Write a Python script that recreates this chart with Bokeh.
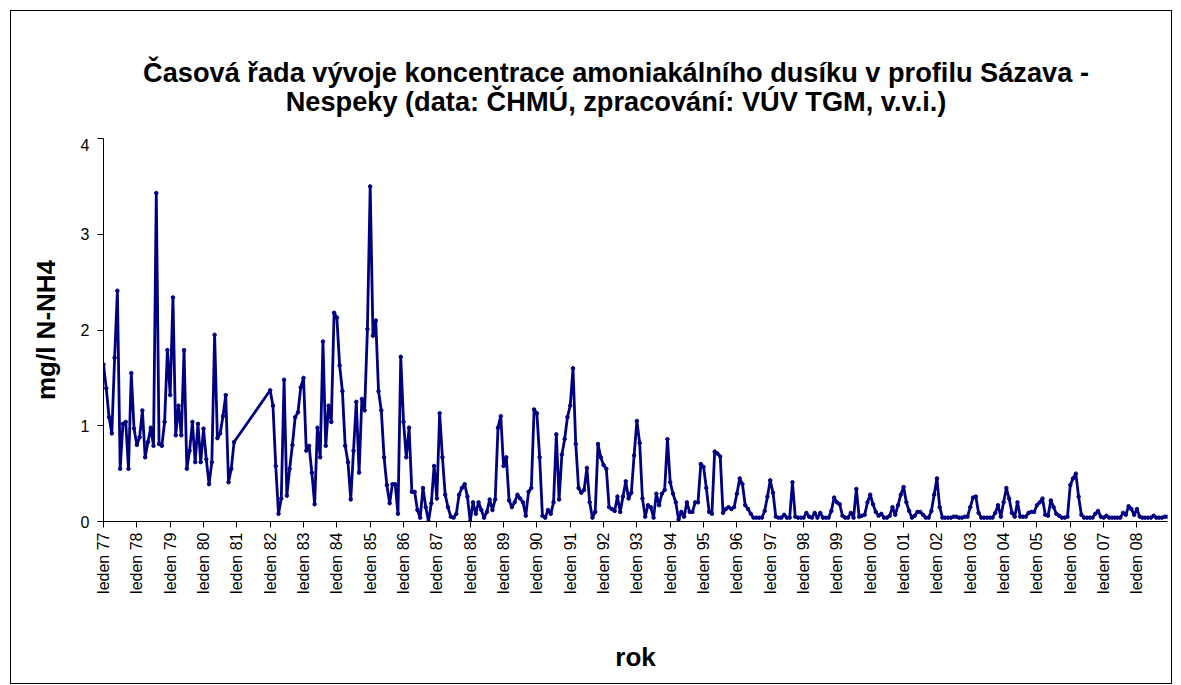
import math
from bokeh.plotting import figure
from bokeh.layouts import column
from bokeh.models import Range1d, FixedTicker
from bokeh.core.properties import value
from bokeh.embed import file_html
from bokeh.resources import INLINE

# monthly values (mg/l N-NH4), January..December; 1981 has no data
v1977 = [1.64, 1.39, 1.09, 0.92, 1.71, 2.41, 0.55, 1.02, 1.04, 0.55, 1.55, 0.97]
v1978 = [0.80, 0.88, 1.16, 0.67, 0.83, 0.98, 0.79, 3.43, 0.81, 0.79, 1.04, 1.79]
v1979 = [1.32, 2.34, 0.90, 1.21, 0.90, 1.79, 0.55, 0.74, 1.04, 0.62, 1.02, 0.62]
v1980 = [0.97, 0.65, 0.39, 0.62, 1.95, 0.87, 0.92, 1.10, 1.32, 0.41, 0.55, 0.83]
v1982 = [1.37, 1.21, 0.58, 0.08, 0.24, 1.48, 0.27, 0.55, 0.80, 1.09, 1.14, 1.40]
v1983 = [1.50, 0.74, 0.79, 0.51, 0.18, 0.98, 0.67, 1.88, 0.79, 1.21, 1.04, 2.18]
v1984 = [2.13, 1.63, 1.36, 0.79, 0.62, 0.23, 0.74, 1.25, 0.51, 1.28, 1.16, 2.01]
v1985 = [3.50, 1.94, 2.10, 1.36, 1.16, 0.67, 0.38, 0.19, 0.39, 0.39, 0.08, 1.72]
v1986 = [1.04, 0.67, 0.98, 0.31, 0.31, 0.12, 0.04, 0.35, 0.15, 0.00, 0.19, 0.58]
v1987 = [0.24, 1.13, 0.67, 0.28, 0.15, 0.05, 0.04, 0.08, 0.28, 0.35, 0.39, 0.26]
v1988 = [0.00, 0.20, 0.08, 0.20, 0.12, 0.04, 0.10, 0.23, 0.12, 0.23, 0.98, 1.10]
v1989 = [0.58, 0.67, 0.22, 0.15, 0.20, 0.28, 0.24, 0.20, 0.06, 0.31, 0.35, 1.17]
v1990 = [1.13, 0.67, 0.06, 0.04, 0.12, 0.08, 0.20, 0.91, 0.23, 0.70, 0.86, 1.09]
v1991 = [1.21, 1.60, 0.81, 0.35, 0.30, 0.33, 0.56, 0.20, 0.04, 0.10, 0.81, 0.67]
v1992 = [0.59, 0.55, 0.15, 0.13, 0.11, 0.26, 0.10, 0.26, 0.42, 0.24, 0.30, 0.69]
v1993 = [1.05, 0.82, 0.24, 0.05, 0.17, 0.15, 0.04, 0.29, 0.17, 0.29, 0.33, 0.86]
v1994 = [0.41, 0.29, 0.20, 0.02, 0.10, 0.05, 0.20, 0.10, 0.10, 0.20, 0.20, 0.60]
v1995 = [0.57, 0.35, 0.10, 0.08, 0.73, 0.71, 0.68, 0.09, 0.13, 0.15, 0.13, 0.15]
v1996 = [0.29, 0.45, 0.39, 0.17, 0.13, 0.08, 0.04, 0.04, 0.04, 0.04, 0.11, 0.26]
v1997 = [0.43, 0.30, 0.05, 0.04, 0.04, 0.07, 0.04, 0.04, 0.41, 0.05, 0.04, 0.04]
v1998 = [0.04, 0.09, 0.05, 0.04, 0.09, 0.04, 0.09, 0.04, 0.04, 0.04, 0.11, 0.25]
v1999 = [0.20, 0.18, 0.06, 0.04, 0.04, 0.09, 0.04, 0.34, 0.05, 0.06, 0.07, 0.20]
v2000 = [0.28, 0.18, 0.10, 0.06, 0.08, 0.04, 0.04, 0.06, 0.15, 0.07, 0.17, 0.28]
v2001 = [0.36, 0.20, 0.11, 0.04, 0.06, 0.10, 0.10, 0.07, 0.04, 0.04, 0.11, 0.28]
v2002 = [0.45, 0.15, 0.04, 0.04, 0.04, 0.04, 0.05, 0.05, 0.04, 0.04, 0.05, 0.05]
v2003 = [0.15, 0.25, 0.26, 0.09, 0.04, 0.04, 0.04, 0.04, 0.04, 0.09, 0.17, 0.05]
v2004 = [0.20, 0.35, 0.24, 0.09, 0.05, 0.20, 0.05, 0.05, 0.05, 0.09, 0.10, 0.10]
v2005 = [0.17, 0.20, 0.24, 0.07, 0.06, 0.22, 0.15, 0.08, 0.06, 0.04, 0.04, 0.05]
v2006 = [0.38, 0.45, 0.50, 0.26, 0.07, 0.04, 0.04, 0.04, 0.04, 0.08, 0.11, 0.05]
v2007 = [0.04, 0.06, 0.04, 0.04, 0.04, 0.04, 0.04, 0.09, 0.07, 0.16, 0.13, 0.07]
v2008 = [0.13, 0.05, 0.04, 0.04, 0.04, 0.04, 0.06, 0.04, 0.04, 0.04, 0.05, 0.05]

years = [1977, 1978, 1979, 1980, 1982, 1983, 1984, 1985, 1986, 1987, 1988,
         1989, 1990, 1991, 1992, 1993, 1994, 1995, 1996, 1997, 1998, 1999,
         2000, 2001, 2002, 2003, 2004, 2005, 2006, 2007, 2008]
yearly = [v1977, v1978, v1979, v1980, v1982, v1983, v1984, v1985, v1986,
          v1987, v1988, v1989, v1990, v1991, v1992, v1993, v1994, v1995,
          v1996, v1997, v1998, v1999, v2000, v2001, v2002, v2003, v2004,
          v2005, v2006, v2007, v2008]

tick_years = list(range(1977, 2009))
tick_labels = ["leden 77", "leden 78", "leden 79", "leden 80", "leden 81",
               "leden 82", "leden 83", "leden 84", "leden 85", "leden 86",
               "leden 87", "leden 88", "leden 89", "leden 90", "leden 91",
               "leden 92", "leden 93", "leden 94", "leden 95", "leden 96",
               "leden 97", "leden 98", "leden 99", "leden 00", "leden 01",
               "leden 02", "leden 03", "leden 04", "leden 05", "leden 06",
               "leden 07", "leden 08"]
y_ticks = [0, 1, 2, 3, 4]

title_lines = ["Časová řada vývoje koncentrace amoniakálního dusíku v profilu Sázava -",
               "Nespeky (data: ČHMÚ, zpracování: VÚV TGM, v.v.i.)"]

xs, ys = [], []
for yr, vals in zip(years, yearly):
    for m, v in enumerate(vals):
        xs.append((yr - 1977) * 12 + m)
        ys.append(v)

FONT = "Liberation Sans"
NAVY = "#000080"

W = 1160
TOP_H = 127          # title band height
MAIN_H = 545         # plot part height
ML, MR, MB = 92, 4, 162
FRAME_W = W - ML - MR   # the column aligns both frames to this width

# ---- title band (pixel coordinates relative to the aligned frame, y downwards) ----
t = figure(width=W, height=TOP_H, output_backend="svg", toolbar_location=None,
           x_axis_location=None, y_axis_location=None,
           x_range=Range1d(0, FRAME_W), y_range=Range1d(TOP_H, 0),
           min_border_left=ML, min_border_right=MR, min_border_top=0, min_border_bottom=0)
t.grid.visible = False
t.outline_line_color = None
t.background_fill_color = "white"
t.border_fill_color = "white"
t.text(x=[512.5, 512.5], y=[61, 90], text=title_lines,
       text_font=value(FONT), text_font_style="bold", text_font_size="27.2px",
       text_align="center", text_baseline="middle", text_color="black")

# ---- main chart ----
p = figure(width=W, height=MAIN_H, output_backend="svg", toolbar_location=None,
           x_range=Range1d(0, 383), y_range=Range1d(0, 4),
           min_border_left=ML, min_border_top=0, min_border_right=MR,
           min_border_bottom=MB)
p.background_fill_color = "white"
p.border_fill_color = "white"
p.outline_line_color = None
p.grid.visible = False

p.line(xs, ys, line_color=NAVY, line_width=2.8)
p.scatter(xs, ys, size=3.5, color=NAVY)

tick_pos = [(y - 1977) * 12 for y in tick_years]
p.xaxis.ticker = FixedTicker(ticks=tick_pos)
p.xaxis.major_label_overrides = {tp: lb for tp, lb in zip(tick_pos, tick_labels)}
p.xaxis.major_label_orientation = math.pi / 2
p.yaxis.ticker = FixedTicker(ticks=y_ticks)

for ax in (p.xaxis, p.yaxis):
    ax.axis_line_color = "black"
    ax.major_tick_line_color = "black"
    ax.minor_tick_line_color = None
    ax.major_tick_in = 0
    ax.major_tick_out = 6
    ax.major_label_text_font = FONT
    ax.major_label_text_font_size = "16px"
    ax.major_label_text_color = "black"
    ax.axis_label_text_font = FONT
    ax.axis_label_text_font_style = "bold"
    ax.axis_label_text_font_size = "26px"
    ax.axis_label_text_color = "black"

p.xaxis.major_label_standoff = 5
p.yaxis.major_label_standoff = 8
p.xaxis.axis_label = "rok"
p.yaxis.axis_label = "mg/l N-NH4"
p.xaxis.axis_label_standoff = 45
p.yaxis.axis_label_standoff = 17

page = column(t, p, spacing=0,
              styles={"border": "1px solid #000000", "margin-left": "10px",
                      "margin-top": "10px", "background-color": "white"})

open("out.html", "w").write(file_html(page, INLINE))
